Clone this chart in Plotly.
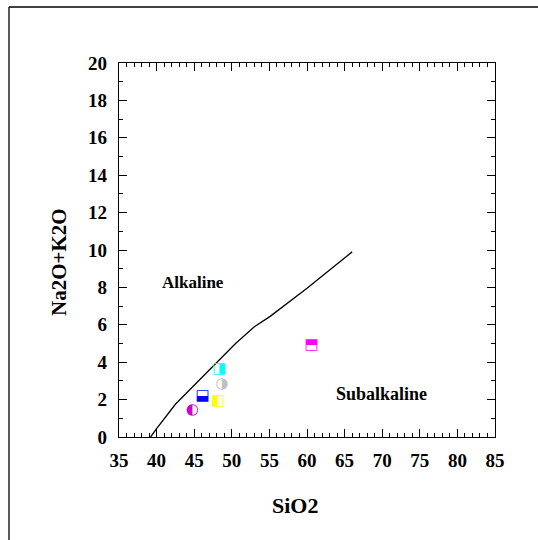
import plotly.graph_objects as go

# Alkaline / subalkaline boundary (Irvine & Baragar 1971)
boundary_sio2 = [39.2, 40.0, 42.5, 45.0, 48.0, 50.5, 53.0, 55.1, 60.0, 66.0]
boundary_alk = [0.0, 0.45, 1.75, 2.75, 3.95, 5.0, 5.9, 6.45, 7.95, 9.9]

# Samples
sample_sio2 = [44.75, 48.7, 46.1, 48.15, 48.35, 60.6]
sample_alk = [1.43, 2.8, 2.16, 1.9, 3.62, 4.88]
sample_symbols = ["◐", "◑", "⬓", "◧", "◨", "⬒"]
sample_colors = ["#cc00cc", "#c0c0c0", "#0000ff", "#ffff00", "#00ffff", "#ff00ff"]

x_ticks = [35, 40, 45, 50, 55, 60, 65, 70, 75, 80, 85]
y_ticks = [0, 2, 4, 6, 8, 10, 12, 14, 16, 18, 20]

font_family = "Liberation Serif, Times New Roman, Times, serif"

# plot area in pixels (for paper-coordinate conversion)
L, R, T, B = 119, 495, 63, 437


def px(xp):
    return (xp - L) / (R - L)


def py(yp):
    return (B - yp) / (B - T)


fig = go.Figure()
fig.add_trace(go.Scatter(x=boundary_sio2, y=boundary_alk, mode="lines",
                         line=dict(color="black", width=1.3), showlegend=False,
                         hoverinfo="skip"))
for xs, ys, s, c in zip(sample_sio2, sample_alk, sample_symbols, sample_colors):
    fig.add_trace(go.Scatter(x=[xs], y=[ys], mode="text", text=[s],
                             textposition="middle center",
                             textfont=dict(family="DejaVu Sans", size=15, color=c),
                             showlegend=False))

axis_common = dict(showline=True, linecolor="black", linewidth=1.3, mirror="allticks",
                   ticks="inside", ticklen=8, tickwidth=1.2, tickcolor="black",
                   showgrid=False, zeroline=False,
                   tickfont=dict(family=font_family, size=19, color="black"))

fig.update_xaxes(range=[35, 85], tickvals=x_ticks, ticktext=[f"<b>{v}</b>" for v in x_ticks],
                 minor=dict(dtick=1, ticks="inside", ticklen=4, tickwidth=1, tickcolor="black"),
                 ticklabelstandoff=6, **axis_common)
fig.update_yaxes(range=[0, 20], tickvals=y_ticks, ticktext=[f"<b>{v}</b>" for v in y_ticks],
                 minor=dict(dtick=1, ticks="inside", ticklen=4, tickwidth=1, tickcolor="black"),
                 ticklabelstandoff=7, **axis_common)

fig.update_layout(
    width=538, height=540,
    margin=dict(l=L, r=538 - R, t=T, b=540 - B),
    paper_bgcolor="white", plot_bgcolor="white",
    showlegend=False,
)
fig.add_annotation(x=px(295), y=py(505), xref="paper", yref="paper",
                   xanchor="center", yanchor="middle",
                   text="<b>SiO2</b>", showarrow=False,
                   font=dict(family=font_family, size=22, color="black"))
fig.add_annotation(x=px(59), y=py(262), xref="paper", yref="paper",
                   xanchor="center", yanchor="middle",
                   text="<b>Na2O+K2O</b>", showarrow=False, textangle=-90,
                   font=dict(family=font_family, size=21, color="black"))
fig.add_annotation(x=44.8, y=8.25, text="<b>Alkaline</b>", showarrow=False,
                   font=dict(family=font_family, size=17, color="black"))
fig.add_annotation(x=69.9, y=2.3, text="<b>Subalkaline</b>", showarrow=False,
                   font=dict(family=font_family, size=18, color="black"))

# outer frame lines
fig.add_shape(type="line", xref="paper", yref="paper",
              x0=px(9), x1=px(9), y0=py(7), y1=py(545),
              line=dict(color="black", width=1.3))
fig.add_shape(type="line", xref="paper", yref="paper",
              x0=px(9), x1=px(545), y0=py(7), y1=py(7),
              line=dict(color="black", width=1.3))

fig.write_html("out.html")
